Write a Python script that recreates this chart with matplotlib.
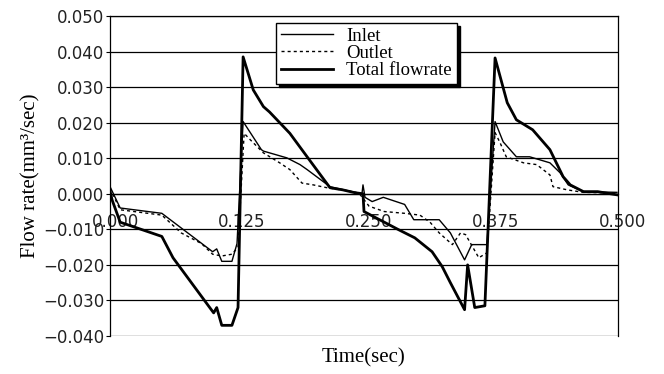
import numpy as np
import matplotlib
matplotlib.use('Agg')
import matplotlib.pyplot as plt
from matplotlib.transforms import ScaledTranslation

# values
t_total = [0.000, 0.002, 0.010, 0.051, 0.062, 0.102, 0.105, 0.110, 0.120, 0.126,
           0.131, 0.141, 0.151, 0.157, 0.177, 0.194, 0.2165, 0.229, 0.241, 0.249,
           0.250, 0.284, 0.300, 0.317, 0.327, 0.335, 0.349, 0.352, 0.359, 0.369,
           0.379, 0.391, 0.400, 0.416, 0.433, 0.446, 0.453, 0.466, 0.480, 0.499]
q_total = [0.0008, -0.0017, -0.0080, -0.0120, -0.0180, -0.0335, -0.0320, -0.0370, -0.0370, -0.0320,
           0.0385, 0.0292, 0.0245, 0.0230, 0.0170, 0.0104, 0.0017, 0.0011, 0.0003, 0.0000,
           -0.0050, -0.0101, -0.0124, -0.0163, -0.0205, -0.0250, -0.0326, -0.0200, -0.0320, -0.0315,
           0.0382, 0.0256, 0.0208, 0.0180, 0.0124, 0.0048, 0.0025, 0.0006, 0.0006, -0.0003]

t_inlet = [0.000, 0.010, 0.051, 0.101, 0.105, 0.110, 0.120, 0.125, 0.131, 0.149,
           0.151, 0.174, 0.187, 0.194, 0.2165, 0.235, 0.248, 0.249, 0.251, 0.258,
           0.269, 0.290, 0.299, 0.324, 0.335, 0.349, 0.356, 0.371, 0.379, 0.387,
           0.400, 0.413, 0.433, 0.443, 0.451, 0.466, 0.499]
q_inlet = [0.0020, -0.0040, -0.0055, -0.0163, -0.0155, -0.0190, -0.0190, -0.0140, 0.0203, 0.0124,
           0.0120, 0.0101, 0.0082, 0.0068, 0.0020, 0.0008, 0.0000, 0.0025, -0.0010, -0.0022,
           -0.0010, -0.0030, -0.0073, -0.0073, -0.0110, -0.0186, -0.0143, -0.0143, 0.0203, 0.0146,
           0.0104, 0.0104, 0.0087, 0.0059, 0.0025, 0.0006, 0.0004]

t_outlet = [0.000, 0.010, 0.051, 0.070, 0.090, 0.101, 0.110, 0.120, 0.126, 0.132,
            0.138, 0.151, 0.167, 0.177, 0.189, 0.200, 0.2135, 0.230, 0.245, 0.255,
            0.270, 0.290, 0.305, 0.315, 0.324, 0.337, 0.345, 0.350, 0.363, 0.371,
            0.379, 0.384, 0.390, 0.407, 0.420, 0.433, 0.436, 0.450, 0.466, 0.499]
q_outlet = [0.0015, -0.0045, -0.0060, -0.0110, -0.0140, -0.0170, -0.0175, -0.0170, -0.0150, 0.0170,
            0.0152, 0.0115, 0.0087, 0.0068, 0.0030, 0.0025, 0.0017, 0.0010, 0.0002, -0.0035,
            -0.0050, -0.0055, -0.0060, -0.0080, -0.0110, -0.0143, -0.0110, -0.0115, -0.0180, -0.0166,
            0.0172, 0.0143, 0.0104, 0.0087, 0.0082, 0.0053, 0.0020, 0.0011, 0.0004, 0.0002]

x_ticks = [0.0, 0.125, 0.25, 0.375, 0.5]
y_ticks = [-0.04, -0.03, -0.02, -0.01, 0.0, 0.01, 0.02, 0.03, 0.04, 0.05]

fig = plt.figure(figsize=(6.64, 3.74), dpi=100)
ax = fig.add_axes([0.1657, 0.1016, 0.7650, 0.8557])

ax.plot(t_inlet, q_inlet, color='black', lw=1.0, label='Inlet')
ax.plot(t_outlet, q_outlet, color='black', lw=1.0, dashes=(2.2, 2.2), label='Outlet')
ax.plot(t_total, q_total, color='black', lw=2.0, label='Total flowrate')

ax.set_xlim(0, 0.5)
ax.set_ylim(-0.04, 0.05)
ax.set_yticks(y_ticks)
ax.set_yticklabels(['%.3f' % v if v >= 0 else '\u2212%.3f' % -v for v in y_ticks])
ax.set_xticks(x_ticks)
ax.set_xticklabels(['%.3f' % v for v in x_ticks])

# horizontal grid only
for v in y_ticks:
    ax.axhline(v, color='black', lw=0.9, zorder=0)

# x axis sits on the zero line, labels just under it
ax.spines['bottom'].set_position(('data', 0))
ax.spines['bottom'].set_linewidth(0.9)
for s in ['top', 'left', 'right']:
    ax.spines[s].set_linewidth(0.9)
ax.tick_params(axis='x', length=0, pad=14, labelsize=12, labelcolor='#222222')
ax.tick_params(axis='y', length=3, pad=1, labelsize=12, labelcolor='#222222')
off = ScaledTranslation(5 / 100, 0, fig.dpi_scale_trans)
for lbl in ax.get_xticklabels():
    lbl.set_transform(lbl.get_transform() + off)

ax.set_ylabel('Flow rate(mm\u00b3/sec)', family='Liberation Serif', fontsize=15, labelpad=2)
fig.text(0.548, 0.043, 'Time(sec)', family='Liberation Serif', fontsize=15,
         ha='center', va='center')

leg = ax.legend(loc='upper left', bbox_to_anchor=(0.327, 0.978), borderaxespad=0,
                prop={'family': 'Liberation Serif', 'size': 13.5},
                fancybox=False, framealpha=1, edgecolor='black',
                shadow={'shade': 1.0, 'alpha': 1.0},
                handlelength=2.8, handletextpad=0.7, labelspacing=0.0,
                borderpad=0.25)
leg.get_frame().set_linewidth(1.0)

plt.savefig('out.png', dpi=100)
